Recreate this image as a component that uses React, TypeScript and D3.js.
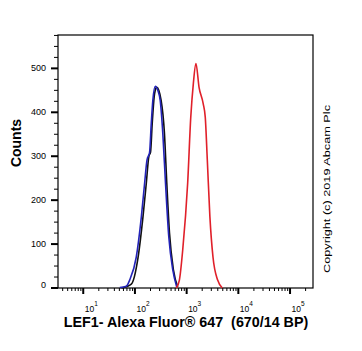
import React, { useEffect, useRef } from "react";
import * as d3 from "d3";

// histogram overlays (fluorescence intensity, counts)
const blackX = [55, 85, 115, 143, 166, 186, 200, 216, 236, 258, 265, 321, 372, 413, 466, 555, 673];
const blackY = [0, 9, 70, 162, 239, 300, 309, 375, 436, 456, 457, 427, 352, 239, 125, 41, 2];

const blueX = [51, 68, 79, 106, 133, 154, 171, 192, 207, 222, 247, 277, 308, 346, 390, 452, 540, 643];
const blueY = [1, 4, 18, 70, 162, 239, 291, 309, 375, 427, 459, 450, 427, 352, 239, 116, 41, 2];

const redX = [631, 724, 839, 1047, 1202, 1349, 1514, 1738, 2089, 2291, 2512, 2818, 3236, 3981, 4898];
const redY = [0, 18, 86, 239, 389, 466, 511, 457, 420, 389, 291, 162, 70, 18, 0];

const yMajor = [0, 100, 200, 300, 400, 500];
const xDecades = [1, 2, 3, 4, 5];

const App = () => {
  const ref = useRef(null);

  useEffect(() => {
    const width = 362;
    const height = 351;
    const marginTop = 35;
    const marginLeft = 58;
    const marginRight = 49;
    const marginBottom = 63;

    const x = d3
      .scaleLog()
      .domain([3.25, 278000])
      .range([marginLeft, width - marginRight]);

    const y = d3
      .scaleLinear()
      .domain([0, 576])
      .range([height - marginBottom, marginTop]);

    const svg = d3.select(ref.current);
    svg.selectAll("*").remove();

    const font = "Arial, 'Liberation Sans', sans-serif";

    // frame
    svg
      .append("rect")
      .attr("x", marginLeft)
      .attr("y", marginTop)
      .attr("width", width - marginLeft - marginRight)
      .attr("height", height - marginTop - marginBottom)
      .attr("fill", "none")
      .attr("stroke", "#000")
      .attr("stroke-width", 1.2);

    // y ticks (minor every 25)
    const yMinor = d3.range(0, 576, 25).filter((v) => v % 100 !== 0);
    svg
      .append("g")
      .selectAll("line")
      .data(yMinor)
      .join("line")
      .attr("x1", marginLeft - 4)
      .attr("x2", marginLeft)
      .attr("y1", (d) => y(d))
      .attr("y2", (d) => y(d))
      .attr("stroke", "#000");
    svg
      .append("g")
      .selectAll("line")
      .data(yMajor)
      .join("line")
      .attr("x1", marginLeft - 7)
      .attr("x2", marginLeft)
      .attr("y1", (d) => y(d))
      .attr("y2", (d) => y(d))
      .attr("stroke", "#000")
      .attr("stroke-width", 2);
    svg
      .append("g")
      .selectAll("text")
      .data(yMajor)
      .join("text")
      .attr("x", 46)
      .attr("y", (d) => y(d) + (d === 0 ? 0 : 3))
      .attr("text-anchor", "end")
      .attr("font-family", font)
      .attr("font-size", 9)
      .text((d) => d);

    // x ticks (log)
    const xMinor = [];
    for (let k = 0; k <= 5; k++) {
      for (let m = 2; m <= 9; m++) {
        const v = m * Math.pow(10, k);
        if (v > 3.25 && v < 278000) xMinor.push(v);
      }
    }
    const xBase = height - marginBottom;
    svg
      .append("g")
      .selectAll("line")
      .data(xMinor)
      .join("line")
      .attr("x1", (d) => x(d))
      .attr("x2", (d) => x(d))
      .attr("y1", xBase)
      .attr("y2", xBase + 3)
      .attr("stroke", "#000");
    svg
      .append("g")
      .selectAll("line")
      .data(xDecades)
      .join("line")
      .attr("x1", (d) => x(Math.pow(10, d)))
      .attr("x2", (d) => x(Math.pow(10, d)))
      .attr("y1", xBase)
      .attr("y2", xBase + 6)
      .attr("stroke", "#000")
      .attr("stroke-width", 2);
    const lbl = svg
      .append("g")
      .selectAll("text")
      .data(xDecades)
      .join("text")
      .attr("x", (d) => x(Math.pow(10, d)) + 1.5)
      .attr("y", xBase + 24)
      .attr("font-family", font)
      .attr("font-size", 8.5);
    lbl.append("tspan").text("10");
    lbl
      .append("tspan")
      .attr("dy", -6)
      .attr("font-size", 6.5)
      .text((d) => d);

    // curves
    const line = d3
      .line()
      .x((d) => x(d[0]))
      .y((d) => y(d[1]))
      .curve(d3.curveMonotoneX);

    const series = [
      { xs: blackX, ys: blackY, color: "#111111" },
      { xs: blueX, ys: blueY, color: "#2323b8" },
      { xs: redX, ys: redY, color: "#e0202a" },
    ];
    series.forEach((s) => {
      svg
        .append("path")
        .datum(s.xs.map((v, i) => [v, s.ys[i]]))
        .attr("fill", "none")
        .attr("stroke", s.color)
        .attr("stroke-width", 1.6)
        .attr("d", line);
    });

    // titles
    svg
      .append("text")
      .attr("x", 186)
      .attr("y", 327)
      .attr("text-anchor", "middle")
      .attr("font-family", font)
      .attr("font-weight", "bold")
      .attr("font-size", 14.3)
      .style("white-space", "pre")
      .text("LEF1- Alexa Fluor® 647  (670/14 BP)");

    svg
      .append("text")
      .attr("transform", "translate(21,143) rotate(-90)")
      .attr("text-anchor", "middle")
      .attr("font-family", font)
      .attr("font-weight", "bold")
      .attr("font-size", 14)
      .text("Counts");

    svg
      .append("text")
      .attr("transform", "translate(330,189) rotate(-90)")
      .attr("text-anchor", "middle")
      .attr("font-family", font)
      .attr("font-size", 9.5)
      .attr("textLength", 168)
      .attr("lengthAdjust", "spacingAndGlyphs")
      .text("Copyright (c) 2019 Abcam Plc");
  }, []);

  return (
    <svg
      ref={ref}
      width={362}
      height={351}
      style={{ position: "absolute", left: 0, top: 0, background: "#fff" }}
    ></svg>
  );
};

export default App;
